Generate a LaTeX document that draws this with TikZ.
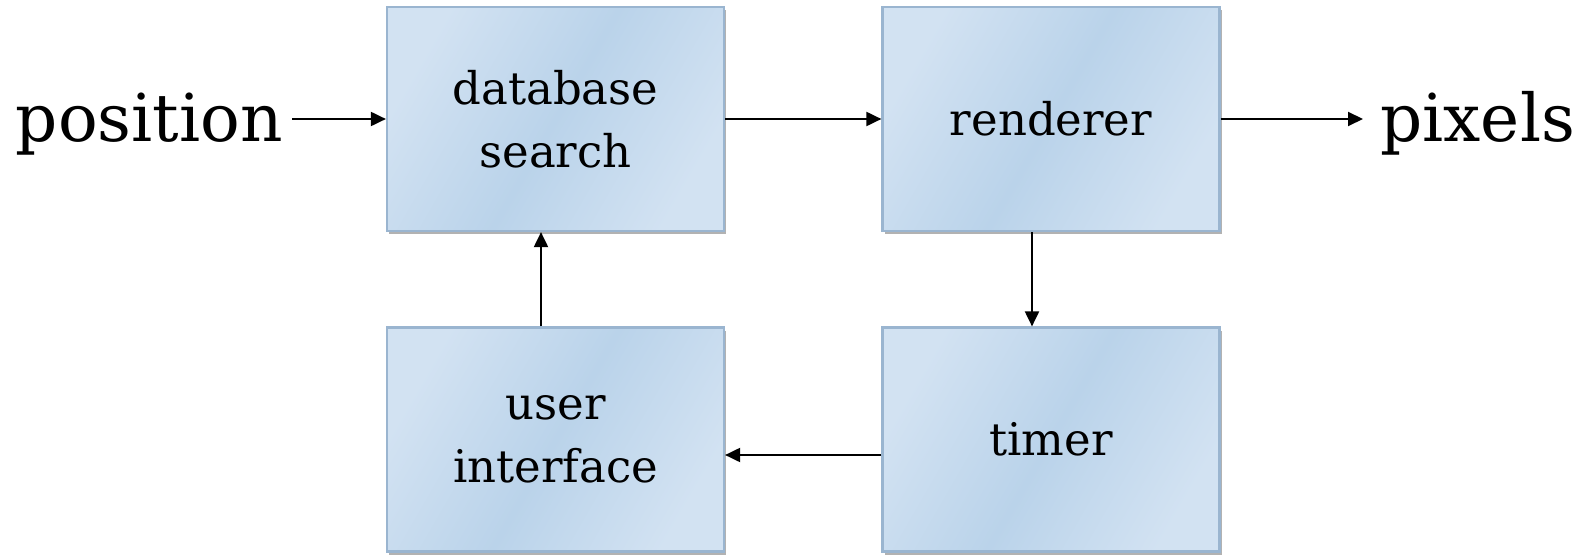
\documentclass[tikz,border=0pt]{standalone}
\usepackage{fontspec}
\setmainfont{DejaVu Serif}
\usetikzlibrary{arrows.meta,shadows}
\definecolor{boxmid}{HTML}{BAD3EA}
\definecolor{boxlight}{HTML}{D2E2F2}
\definecolor{boxedge}{HTML}{9AB5D0}
\begin{document}
\begin{tikzpicture}[x=0.5pt,y=-0.5pt,
  blk/.style={draw=boxedge, line width=1.1pt,
    minimum width=168.5pt, minimum height=112pt, inner sep=0pt,
    align=center, font=\fontsize{22.5}{31.5}\selectfont,
    drop shadow={shadow xshift=1pt, shadow yshift=-1.5pt, fill=black!55, opacity=0.55},
    left color=boxlight, right color=boxlight, middle color=boxmid,
    shading angle=60},
  arr/.style={line width=1pt, -{Triangle[length=7.5pt,width=7pt]}},
  term/.style={font=\fontsize{33}{36}\selectfont, inner sep=0pt}]
  \useasboundingbox (0,0) rectangle (1587,556);

  % processing blocks
  \node[blk] (db)    at (555.5,119)   {database\\search};
  \node[blk] (rend)  at (1051,119)    {renderer};
  \node[blk] (ui)    at (555.5,439.5) {user\\interface};
  \node[blk] (timer) at (1051,439.5)  {timer};

  % input and output
  \node[term, anchor=base east] (pos) at (283,142) {position};
  \node[term, anchor=base west] (pix) at (1380,142) {pixels};

  % signal flow
  \draw[arr] ([xshift=4.5pt]pos.east |- db.west) -- (db.west);
  \draw[arr] (db.east) -- (rend.west);
  \draw[arr] (rend.east) -- ([xshift=-8.5pt]pix.west |- rend.east);
  \draw[arr] ([xshift=-9.5pt]rend.south) -- ([xshift=-9.5pt]timer.north);
  \draw[arr] ([yshift=-7.75pt]timer.west) -- ([yshift=-7.75pt]ui.east);
  \draw[arr] ([xshift=-7.25pt]ui.north) -- ([xshift=-7.25pt]db.south);
\end{tikzpicture}
\end{document}
